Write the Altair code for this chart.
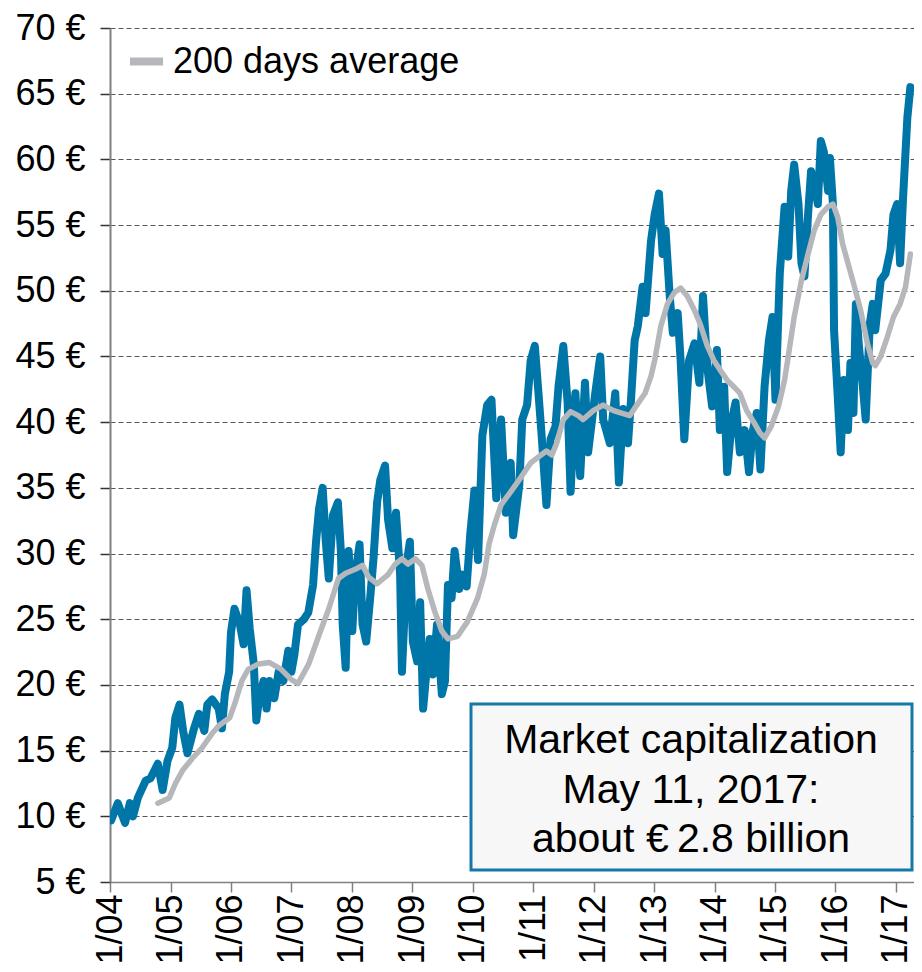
import altair as alt
import pandas as pd

# Share price (decimal year, EUR)
price_t = [2004.02, 2004.13, 2004.25, 2004.33, 2004.38, 2004.46, 2004.59, 2004.67, 2004.79, 2004.87,
           2004.95, 2005.03, 2005.08, 2005.15, 2005.21, 2005.28, 2005.39, 2005.47, 2005.56, 2005.61,
           2005.69, 2005.80, 2005.85, 2005.90, 2005.97, 2006.00, 2006.06, 2006.15, 2006.21, 2006.26,
           2006.31, 2006.38, 2006.42, 2006.47, 2006.54, 2006.59, 2006.64, 2006.72, 2006.79, 2006.87,
           2006.95, 2007.00, 2007.05, 2007.11, 2007.21, 2007.28, 2007.36, 2007.41, 2007.46, 2007.52,
           2007.57, 2007.62, 2007.69, 2007.77, 2007.82, 2007.85, 2007.90, 2007.95, 2008.01, 2008.06,
           2008.13, 2008.18, 2008.24, 2008.31, 2008.36, 2008.42, 2008.47, 2008.55, 2008.60, 2008.67,
           2008.73, 2008.80, 2008.83, 2008.91, 2008.96, 2009.01, 2009.08, 2009.13, 2009.18, 2009.24,
           2009.29, 2009.34, 2009.41, 2009.49, 2009.54, 2009.59, 2009.65, 2009.70, 2009.78, 2009.83,
           2009.90, 2009.96, 2010.03, 2010.09, 2010.16, 2010.24, 2010.31, 2010.39, 2010.47, 2010.55,
           2010.63, 2010.67, 2010.77, 2010.82, 2010.90, 2010.96, 2011.03, 2011.09, 2011.14, 2011.22,
           2011.29, 2011.37, 2011.42, 2011.50, 2011.57, 2011.62, 2011.70, 2011.78, 2011.86, 2011.91,
           2012.03, 2012.11, 2012.16, 2012.27, 2012.36, 2012.42, 2012.49, 2012.57, 2012.62, 2012.68,
           2012.73, 2012.81, 2012.86, 2012.95, 2013.01, 2013.08, 2013.14, 2013.19, 2013.26, 2013.31,
           2013.39, 2013.44, 2013.50, 2013.58, 2013.67, 2013.75, 2013.81, 2013.88, 2013.96, 2014.04,
           2014.09, 2014.16, 2014.21, 2014.29, 2014.35, 2014.42, 2014.50, 2014.57, 2014.63, 2014.70,
           2014.76, 2014.83, 2014.90, 2014.96, 2015.01, 2015.08, 2015.16, 2015.22, 2015.27, 2015.32,
           2015.39, 2015.44, 2015.49, 2015.55, 2015.60, 2015.65, 2015.71, 2015.76, 2015.81, 2015.88,
           2015.91, 2015.96, 2015.98, 2016.04, 2016.09, 2016.14, 2016.21, 2016.25, 2016.30, 2016.34,
           2016.39, 2016.45, 2016.50, 2016.57, 2016.62, 2016.66, 2016.75, 2016.83, 2016.91, 2016.96,
           2017.02, 2017.07, 2017.12, 2017.19, 2017.24]
price_v = [9.7, 11.0, 9.5, 11.0, 10.0, 11.4, 12.7, 12.9, 14.0, 12.0,
           14.2, 15.2, 17.5, 18.5, 16.5, 14.8, 16.7, 17.8, 16.5, 18.5,
           18.9, 18.2, 16.7, 19.3, 21.0, 24.0, 25.8, 24.6, 23.1, 27.2,
           24.3, 21.6, 17.3, 19.0, 20.3, 18.2, 20.3, 19.0, 21.0, 20.3,
           22.6, 21.0, 22.3, 24.6, 25.0, 25.5, 27.6, 30.9, 33.4, 35.0,
           30.9, 28.1, 32.9, 33.9, 30.2, 24.6, 21.3, 30.2, 24.1, 28.4,
           30.7, 24.6, 23.3, 26.9, 29.6, 33.9, 35.6, 36.7, 32.6, 30.4,
           33.1, 28.4, 21.0, 29.4, 30.9, 23.3, 21.8, 26.3, 18.2, 21.3,
           23.5, 20.8, 24.6, 19.3, 20.3, 27.6, 26.6, 30.2, 27.3, 28.4,
           27.5, 31.5, 34.8, 29.5, 39.0, 41.3, 41.7, 34.2, 40.2, 33.1,
           36.9, 31.4, 35.2, 40.2, 41.3, 44.7, 45.8, 42.2, 39.0, 33.7,
           38.7, 39.7, 42.7, 45.8, 41.5, 34.7, 42.2, 35.9, 43.0, 37.7,
           42.2, 45.0, 40.2, 38.4, 42.2, 35.4, 41.0, 38.4, 41.7, 46.2,
           47.3, 50.3, 48.3, 53.8, 55.8, 57.4, 52.8, 54.6, 49.6, 46.8,
           48.3, 44.7, 38.7, 44.7, 46.0, 43.0, 49.6, 44.2, 41.2, 45.5,
           39.4, 42.7, 36.2, 40.2, 41.5, 37.7, 39.4, 36.2, 39.2, 40.7,
           36.4, 42.7, 46.2, 48.0, 41.7, 51.3, 56.4, 52.6, 57.6, 59.6,
           56.6, 52.1, 51.1, 55.8, 59.1, 58.1, 56.6, 61.4, 60.6, 57.6,
           60.1, 56.6, 47.0, 42.0, 37.7, 43.2, 39.4, 44.5, 40.7, 49.0,
           45.8, 43.0, 40.2, 47.5, 49.0, 47.0, 50.8, 51.3, 53.1, 55.8,
           56.6, 52.1, 57.1, 63.2, 65.5]

# 200 days average (decimal year, EUR)
avg_t = [2004.79, 2004.98, 2005.08, 2005.20, 2005.36, 2005.52, 2005.69, 2005.80, 2005.98, 2006.06,
         2006.18, 2006.29, 2006.46, 2006.64, 2006.83, 2007.00, 2007.11, 2007.29, 2007.46, 2007.62,
         2007.78, 2007.90, 2008.06, 2008.18, 2008.28, 2008.42, 2008.60, 2008.72, 2008.83, 2008.93,
         2009.05, 2009.16, 2009.26, 2009.37, 2009.49, 2009.59, 2009.75, 2009.91, 2010.08, 2010.19,
         2010.27, 2010.36, 2010.47, 2010.63, 2010.80, 2010.96, 2011.13, 2011.22, 2011.31, 2011.39,
         2011.50, 2011.62, 2011.75, 2011.83, 2012.00, 2012.16, 2012.32, 2012.45, 2012.60, 2012.70,
         2012.85, 2012.95, 2013.01, 2013.11, 2013.22, 2013.34, 2013.44, 2013.55, 2013.67, 2013.76,
         2013.88, 2013.99, 2014.09, 2014.21, 2014.32, 2014.42, 2014.53, 2014.65, 2014.75, 2014.83,
         2014.94, 2015.06, 2015.16, 2015.22, 2015.32, 2015.44, 2015.55, 2015.65, 2015.76, 2015.88,
         2015.96, 2016.04, 2016.12, 2016.21, 2016.30, 2016.42, 2016.53, 2016.62, 2016.66, 2016.75,
         2016.86, 2016.96, 2017.07, 2017.16, 2017.24]
avg_v = [11.0, 11.4, 12.5, 13.5, 14.4, 15.2, 16.3, 16.9, 17.5, 18.5,
         20.3, 21.2, 21.6, 21.7, 21.2, 20.4, 20.1, 21.6, 23.8, 25.8,
         28.1, 28.5, 28.8, 29.1, 28.2, 27.7, 28.4, 29.2, 29.6, 29.2,
         29.6, 29.1, 27.3, 25.6, 24.1, 23.5, 23.7, 24.8, 26.6, 28.4,
         30.7, 32.2, 33.7, 34.7, 35.8, 36.9, 37.5, 37.8, 37.5, 38.4,
         40.2, 40.8, 40.5, 40.2, 40.9, 41.3, 40.9, 40.7, 40.5, 41.2,
         42.2, 43.5, 44.7, 47.3, 49.0, 49.9, 50.2, 49.6, 48.5, 47.5,
         45.8, 44.7, 44.0, 43.2, 42.7, 42.2, 40.9, 40.0, 39.2, 38.8,
         39.7, 41.2, 43.2, 45.0, 48.0, 50.8, 52.8, 54.6, 55.8, 56.4,
         56.6, 55.6, 53.6, 52.1, 50.6, 48.5, 46.0, 44.5, 44.3, 45.0,
         46.5, 48.0, 49.0, 50.3, 52.8]

years = list(range(2004, 2018))
y_ticks = list(range(5, 75, 5))
legend_label = "200 days average"
note_lines = ["Market capitalization", "May 11, 2017:", "about \u20ac\u20092.8 billion"]


def to_ts(t):
    y = int(t)
    start = pd.Timestamp(year=y, month=1, day=1)
    end = pd.Timestamp(year=y + 1, month=1, day=1)
    return (start + (end - start) * (t - y)).normalize()


price_df = pd.DataFrame({"date": [to_ts(t) for t in price_t], "value": price_v})
avg_df = pd.DataFrame({"date": [to_ts(t) for t in avg_t], "value": avg_v,
                       "series": legend_label})

FONT = "Liberation Sans"
BLUE = "#0076a8"
GRAY = "#b5b7bb"

x_enc = alt.X(
    "date:T",
    title=None,
    scale=alt.Scale(domain=[alt.DateTime(year=2004, month=1, date=1),
                            alt.DateTime(year=2017, month=4, date=20)]),
    axis=alt.Axis(
        values=[alt.DateTime(year=y, month=1, date=1) for y in years],
        format="%-m/%y",
        labelAngle=270,
        labelFontSize=36,
        labelFont=FONT,
        labelColor="#000000",
        labelPadding=2,
        tickSize=10,
        tickColor="#808080",
        tickWidth=1.5,
        domainColor="#808080",
        domainWidth=1.5,
        grid=False,
        labelOverlap=False,
    ),
)
y_enc = alt.Y(
    "value:Q",
    title=None,
    scale=alt.Scale(domain=[5, 70], nice=False, zero=False),
    axis=alt.Axis(
        values=y_ticks,
        labelExpr="datum.value + ' \u20ac'",
        labelFontSize=36,
        labelFont=FONT,
        labelColor="#000000",
        labelPadding=15,
        tickSize=10,
        tickColor="#333333",
        tickWidth=1.5,
        domainColor="#808080",
        domainWidth=2,
        grid=True,
        gridColor="#555555",
        gridDash=[5, 3],
        gridWidth=1,
        labelOverlap=False,
    ),
)

one = pd.DataFrame({"a": [0]})

box = alt.Chart(one).mark_rect(fill="#f7f7f7", stroke="#1478a8", strokeWidth=3).encode(
    x=alt.value(361), x2=alt.value(802), y=alt.value(676), y2=alt.value(842)
)

price_line = alt.Chart(price_df).mark_line(
    color=BLUE, strokeWidth=8, strokeJoin="round", strokeCap="round", clip=True
).encode(x=x_enc, y=y_enc)

avg_line = alt.Chart(avg_df).mark_line(
    strokeWidth=5.5, strokeJoin="round", strokeCap="round", clip=True
).encode(
    x="date:T",
    y="value:Q",
    color=alt.Color(
        "series:N",
        scale=alt.Scale(domain=[legend_label], range=[GRAY]),
        legend=alt.Legend(
            orient="none", legendX=16, legendY=13, title=None,
            symbolType="stroke", symbolStrokeWidth=8, symbolSize=1089,
            labelFontSize=36, labelFont=FONT, labelColor="#000000",
            labelOffset=6, padding=0, labelLimit=600,
        ),
    ),
)

note = alt.Chart(one).mark_text(
    text=note_lines, fontSize=41, lineHeight=49.5, font=FONT, color="#000000",
    align="center", baseline="alphabetic",
).encode(x=alt.value(581), y=alt.value(725))

chart = alt.layer(box, price_line, avg_line, note).properties(
    width=804, height=854,
    autosize=alt.AutoSizeParams(type="none"),
    padding={"left": 102, "top": 20, "right": 0, "bottom": 82},
    background="#ffffff",
).configure_view(stroke=None)

chart.save("out.html", embed_options={"renderer": "svg", "actions": False})
